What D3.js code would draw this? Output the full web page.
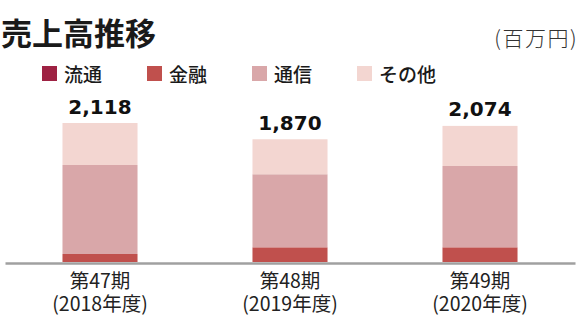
<!DOCTYPE html>
<html lang="ja">
<head>
<meta charset="utf-8">
<script src="https://cdn.jsdelivr.net/npm/d3@7"></script>
<style>
  html, body { margin: 0; padding: 0; background: #fff; }
  svg { display: block; font-family: "Noto Sans CJK JP", "Noto Sans", sans-serif; }
</style>
</head>
<body>
<svg id="chart" width="580" height="318"></svg>
<script>
// ─── Data ───
const periods = ["第47期", "第48期", "第49期"];
const years = ["(2018年度)", "(2019年度)", "(2020年度)"];
const seriesNames = ["流通", "金融", "通信", "その他"];
const ryutsu = [0, 0, 0];
const kinyu = [122, 224, 224];
const tsushin = [1356, 1113, 1239];
const sonota = [640, 533, 611];
const totals = [2118, 1870, 2074];
const colors = ["#9e2243", "#c0504d", "#d9a7a9", "#f3d6d1"];

const BASE = 262;

const svg = d3.select("#chart");

// table for the stack
const rows = periods.map((p, i) => ({
  period: p, "流通": ryutsu[i], "金融": kinyu[i], "通信": tsushin[i], "その他": sonota[i],
}));
const stacked = d3.stack().keys(seriesNames)(rows);

// ─── Scales ───
const x = d3.scaleBand().domain(periods).range([5, 575])
  .paddingInner(0.605).paddingOuter(0.3025);
const y = d3.scaleLinear().domain([0, d3.max(totals)]).range([BASE, 123]);
const color = d3.scaleOrdinal().domain(seriesNames).range(colors);

// ─── Title + unit ───
svg.append("text")
  .attr("x", 1).attr("y", 45)
  .attr("font-size", "31px").attr("font-weight", 700).attr("fill", "#1a1a1a")
  .text("売上高推移");

svg.append("text")
  .attr("x", 578).attr("y", 46).attr("text-anchor", "end")
  .attr("font-size", "21px").attr("font-weight", 300).attr("fill", "#333")
  .attr("letter-spacing", "1.5px")
  .text("(百万円)");

// ─── Legend ───
const legend = svg.append("g").selectAll("g")
  .data(seriesNames).join("g")
  .attr("transform", (d, i) => `translate(${42 + i * 105},66)`);
legend.append("rect").attr("width", 15).attr("height", 15).attr("fill", (d) => color(d));
legend.append("text").attr("x", 22).attr("y", 15.5)
  .attr("font-size", "19px").attr("font-weight", 500).attr("fill", "#1a1a1a")
  .text((d) => d);

// ─── Bars ───
svg.append("g").selectAll("g")
  .data(stacked).join("g")
  .attr("fill", (d) => color(d.key))
  .selectAll("rect")
  .data((d) => d).join("rect")
  .attr("x", (d) => x(d.data.period))
  .attr("width", x.bandwidth())
  .attr("y", (d) => y(d[1]))
  .attr("height", (d) => y(d[0]) - y(d[1]));

// ─── Totals ───
svg.append("g").selectAll("text")
  .data(periods).join("text")
  .attr("x", (d) => x(d) + x.bandwidth() / 2)
  .attr("y", (d, i) => y(totals[i]) - 9.5)
  .attr("text-anchor", "middle")
  .attr("font-family", "'DejaVu Sans', sans-serif")
  .attr("font-size", "20px").attr("font-weight", 700).attr("fill", "#111")
  .text((d, i) => d3.format(",")(totals[i]));

// ─── Axis ───
const xAxis = svg.append("g").attr("transform", `translate(0,${BASE + 1})`)
  .call(d3.axisBottom(x).tickSize(0).tickFormat(""));
xAxis.select(".domain").attr("stroke", "#a0a0a0").attr("stroke-width", 2.5);

// two-line category labels, spaced as tightly as in the reference
const cat = svg.append("g").selectAll("text")
  .data(periods).join("text")
  .attr("text-anchor", "middle")
  .attr("font-size", "19.5px").attr("font-weight", 400).attr("fill", "#222")
  .attr("transform", (d) => `translate(${x(d) + x.bandwidth() / 2},0)`);
cat.append("tspan").attr("x", 0).attr("y", 288).text((d) => d);
cat.append("tspan").attr("x", 0).attr("y", 310.5).text((d, i) => years[i]);
</script>
</body>
</html>
